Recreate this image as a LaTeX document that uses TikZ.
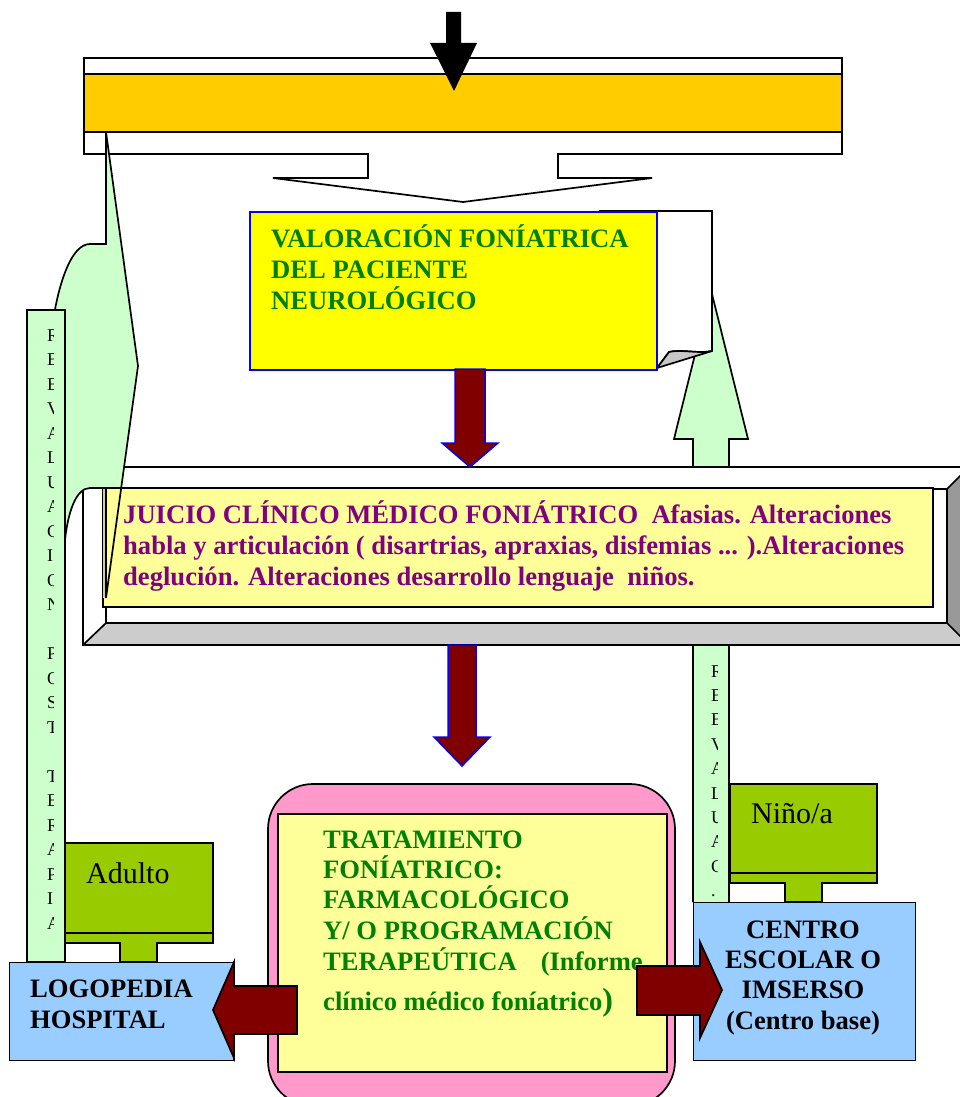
\documentclass[tikz,border=0pt]{standalone}
\usepackage{fontspec}
\setmainfont{Liberation Serif}
\definecolor{orangeband}{HTML}{FFCC00}
\definecolor{valyellow}{HTML}{FFFF00}
\definecolor{paleyellow}{HTML}{FFFF99}
\definecolor{txtgreen}{HTML}{008000}
\definecolor{txtpurple}{HTML}{800080}
\definecolor{darkred}{HTML}{800000}
\definecolor{palegreen}{HTML}{CCFFCC}
\definecolor{leafgreen}{HTML}{99CC00}
\definecolor{skyblue}{HTML}{99CCFF}
\definecolor{pinkbox}{HTML}{FF99CC}
\definecolor{bevelgray}{HTML}{CCCCCC}
\definecolor{beveldark}{HTML}{999999}
\definecolor{curlgray}{HTML}{C8C8C8}
\definecolor{olivestrip}{HTML}{D0D098}
\begin{document}
\begin{tikzpicture}[x=1pt,y=-1pt,line join=miter,
  outl/.style={draw=black,line width=1.7pt},
  bluel/.style={draw=blue,line width=1.5pt},
  boldtxt/.style={inner sep=0pt,anchor=base west,font=\fontsize{26.6}{31}\selectfont\bfseries},
  ctrtxt/.style={inner sep=0pt,anchor=base,font=\fontsize{26.6}{31}\selectfont\bfseries},
  plaintxt/.style={inner sep=0pt,anchor=base west,font=\fontsize{30}{34}\selectfont},
  lettertxt/.style={inner sep=0pt,anchor=base west,font=\fontsize{18}{20}\selectfont},
]
\useasboundingbox (0,0) rectangle (960,1097);
\begin{scope}
\clip (0,0) rectangle (960,1097);

% right upward green arrow (behind)
\draw[outl,fill=palegreen] (693,902) -- (693,439) -- (674,439) -- (711,290) -- (748,439) -- (729,439) -- (729,902);

% top down-arrow callout
\draw[outl,fill=white] (84,58) -- (842,58) -- (842,154) -- (558,154) -- (558,178) -- (652,178) -- (463,202) -- (273,178) -- (368,178) -- (368,154) -- (84,154) -- cycle;
\draw[outl,fill=orangeband] (84,74) rectangle (842,132);

% top black arrow
\fill[black] (446,12) -- (461,12) -- (461,43) -- (477,43) -- (454,91) -- (430,43) -- (446,43) -- cycle;

% valoracion page with curl
\draw[outl,fill=white] (600,211) -- (712,211) -- (712,351) .. controls (700,354) and (680,349) .. (669,352) -- (657,368) -- (600,368) -- cycle;
\draw[outl,fill=curlgray] (657,368) -- (669,352) .. controls (680,349) and (700,354) .. (712,351) -- cycle;
\node[bluel,fill=valyellow,anchor=north west,inner sep=0pt,minimum width=407pt,minimum height=158pt] (val) at (249,211) {};
\node[boldtxt,text=txtgreen] (val1) at (271,247) {VALORACIÓN FONÍATRICA};
\node[boldtxt,text=txtgreen] (val2) at (271,278) {DEL PACIENTE};
\node[boldtxt,text=txtgreen] (val3) at (271,309) {NEUROLÓGICO};

% juicio bevel frame
\fill[white] (83,467) rectangle (969,645);
\fill[beveldark] (947,489) -- (969,467) -- (969,645) -- (947,623) -- cycle;
\fill[bevelgray] (83,645) -- (106,623) -- (947,623) -- (969,645) -- cycle;
\draw[outl] (83,467) rectangle (969,645);
\draw[outl] (106,489) rectangle (947,623);
\draw[outl] (83,467) -- (106,489) (969,467) -- (947,489) (83,645) -- (106,623) (969,645) -- (947,623);

% left curved green arrow
\draw[outl,fill=palegreen] (106,132) -- (138,366) -- (106,598) -- (106,488) -- (90,488)
  .. controls (76,488) and (68,512) .. (65,540) -- (60,600) -- (40,600) -- (40,380) -- (54,315)
  .. controls (60,280) and (72,244) .. (90,244) -- (106,244) -- cycle;

% left green bar with letters
\draw[outl,fill=palegreen] (27,310) rectangle (65,962);
\begin{scope}
\clip (44,310) rectangle (53,962);
\foreach \ch [count=\i from 0] in {R,E,E,V,A,L,U,A,C,I,O,N,{},P,O,S,T,{},T,E,R,A,P,I,A}
  \node[lettertxt,name=lch\i] at (47,{341+24.5*\i}) {\ch};
\end{scope}

% juicio yellow box
\node[outl,fill=paleyellow,anchor=north west,inner sep=0pt,minimum width=830pt,minimum height=119pt] (jui) at (102,487) {};
\fill[olivestrip] (103,488.5) rectangle (106,598);
\draw[outl] (106,488) -- (106,598) -- (121.2,488);
\node[boldtxt,text=txtpurple] (jui1) at (123,523) {JUICIO CLÍNICO MÉDICO FONIÁTRICO\ \ Afasias. Alteraciones};
\node[boldtxt,text=txtpurple] (jui2) at (123,554) {habla y articulación ( disartrias, apraxias, disfemias ... ).Alteraciones};
\node[boldtxt,text=txtpurple] (jui3) at (123,585) {deglución. Alteraciones desarrollo lenguaje\ \ niños.};

% red down arrows
\draw[bluel,fill=darkred] (455,369) -- (485,369) -- (485,443) -- (498,443) -- (470,467) -- (442,443) -- (455,443) -- cycle;
\draw[bluel,fill=darkred] (448,645) -- (476,645) -- (476,737) -- (490,737) -- (462,766) -- (434,737) -- (448,737) -- cycle;

% right bar letters
\begin{scope}
\clip (708,645) rectangle (717,902);
\foreach \ch [count=\i from 0] in {R,E,E,V,A,L,U,A,C,.}
  \node[lettertxt,name=rch\i] at (711,{677+24.4*\i}) {\ch};
\end{scope}

% Adulto and Nino callouts
\draw[outl,fill=leafgreen] (65,843) -- (213,843) -- (213,943) -- (157,943) -- (157,962) -- (120,962) -- (120,943) -- (65,943) -- cycle;
\draw[outl] (65,933) -- (213,933);
\node[plaintxt] (adulto) at (86,883) {Adulto};
\draw[outl,fill=leafgreen] (730,784) -- (877,784) -- (877,883) -- (822,883) -- (822,902) -- (785,902) -- (785,883) -- (730,883) -- cycle;
\draw[outl] (730,873) -- (877,873);
\node[plaintxt] (nino) at (751,823) {Niño/a};

% tratamiento
\draw[outl,fill=pinkbox,rounded corners=45pt] (268,784) rectangle (675,1106);
\node[outl,fill=paleyellow,anchor=north west,inner sep=0pt,minimum width=389pt,minimum height=258pt] (trat) at (277,813) {};
\node[boldtxt,text=txtgreen] (tr1) at (323,848) {TRATAMIENTO};
\node[boldtxt,text=txtgreen] (tr2) at (323,878) {FONÍATRICO:};
\node[boldtxt,text=txtgreen] (tr3) at (323,908) {FARMACOLÓGICO};
\node[boldtxt,text=txtgreen] (tr4) at (323,939) {Y/ O PROGRAMACIÓN};
\node[boldtxt,text=txtgreen] (tr5) at (323,970) {TERAPEÚTICA\hspace{24pt}(Informe};
\node[boldtxt,text=txtgreen] (tr6) at (323,1010) {clínico médico foníatrico{\fontsize{32}{36}\selectfont)}};

% blue boxes
\node[draw=black,line width=1.4pt,fill=skyblue,anchor=north west,inner sep=0pt,minimum width=224pt,minimum height=98pt] (logo) at (9,962) {};
\node[boldtxt,text=black] (logo1) at (30,997) {LOGOPEDIA};
\node[boldtxt,text=black] (logo2) at (30,1028) {HOSPITAL};
\node[draw=black,line width=1.4pt,fill=skyblue,anchor=north west,inner sep=0pt,minimum width=222pt,minimum height=158pt] (centro) at (693,902) {};
\node[ctrtxt] (c1) at (803,938) {CENTRO};
\node[ctrtxt] (c2) at (803,968) {ESCOLAR O};
\node[ctrtxt] (c3) at (803,998) {IMSERSO};
\node[ctrtxt] (c4) at (803,1029) {(Centro base)};

% red horizontal arrows
\draw[outl,fill=darkred] (297,986) -- (297,1034) -- (234,1034) -- (234,1058) -- (213,1010) -- (234,962) -- (234,986) -- cycle;
\draw[outl,fill=darkred] (637,966) -- (700,966) -- (700,942) -- (722,990) -- (700,1038) -- (700,1015) -- (637,1015) -- cycle;
\end{scope}
\end{tikzpicture}
\end{document}
